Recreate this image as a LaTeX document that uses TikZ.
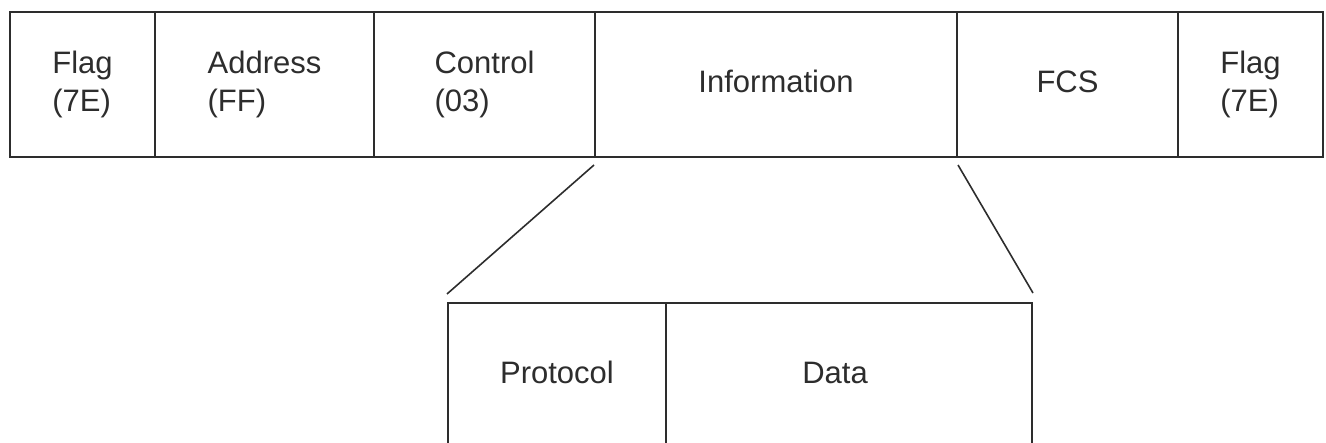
\documentclass[tikz,border=0pt]{standalone}
\usepackage{fontspec}
\setmainfont{Liberation Sans}
\usetikzlibrary{calc}
\definecolor{ink}{RGB}{45,45,45}
\tikzset{
  cell/.style={draw=ink, line width=2pt, inner sep=0pt, minimum height=145pt,
    text=ink, font=\fontsize{31}{37.5}\selectfont},
  onecell/.style={cell, text depth=6pt},
  twocell/.style={cell, align=left},
  zoomline/.style={draw=ink, line width=1.6pt},
}
\begin{document}
\begin{tikzpicture}[x=1pt, y=-1pt]
  \useasboundingbox (0,0) rectangle (1326,443);
  \clip (0,0) rectangle (1326,443);
  % frame fields
  \node[twocell, minimum width=145pt] (flag1) at (82.5,84.5) {Flag\\(7E)};
  \node[twocell, minimum width=219pt] (addr)  at (264.5,84.5) {Address\\(FF)};
  \node[twocell, minimum width=221pt] (ctrl)  at (484.5,84.5) {Control\\(03)};
  \node[onecell, minimum width=362pt] (info)  at (776,84.5) {Information};
  \node[onecell, minimum width=221pt] (fcs)   at (1067.5,84.5) {FCS};
  \node[twocell, minimum width=145pt] (flag2) at (1250.5,84.5) {Flag\\(7E)};
  % expanded information field
  \node[onecell, minimum width=218pt] (proto) at (557,375.5) {Protocol};
  \node[cell, minimum width=366pt,
        label={[text=ink, font=\fontsize{31}{37.5}\selectfont, text depth=6pt,
                xshift=-14pt]center:Data}] (data) at (849,375.5) {};
  % zoom lines
  \coordinate (zl1) at ($(info.south west)+(0,7)$);
  \coordinate (zl2) at ($(proto.north west)+(0,-8)$);
  \coordinate (zr1) at ($(info.south east)+(0,7)$);
  \coordinate (zr2) at ($(data.north east)+(0,-9)$);
  \draw[zoomline] (zl1) -- (zl2);
  \draw[zoomline] (zr1) -- (zr2);
\end{tikzpicture}
\end{document}
